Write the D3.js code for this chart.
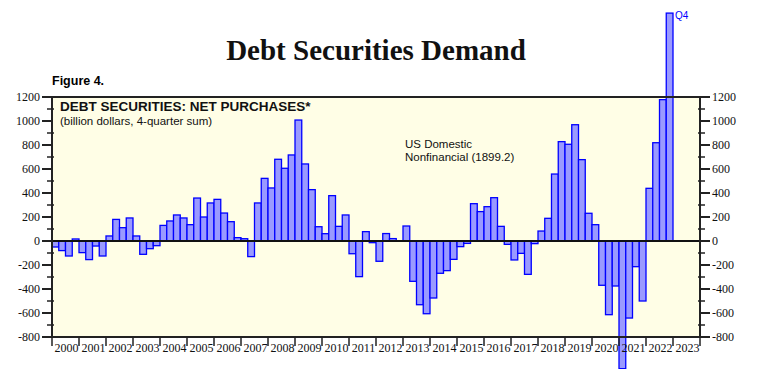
<!DOCTYPE html>
<html>
<head>
<meta charset="utf-8">
<script src="https://cdnjs.cloudflare.com/ajax/libs/d3/7.8.5/d3.min.js"></script>
<style>
  body { margin: 0; background: #fff; }
  svg { display: block; }
</style>
</head>
<body>
<script>
// quarterly net purchases, billion dollars, 4-quarter sum (2000Q1 .. 2022Q4)
const years = d3.range(2000, 2023)
const quarterValues = [
  -50, -80, -125, 17,      // 2000
  -97, -155, -42, -125,    // 2001
  42, 180, 111, 192,       // 2002
  42, -111, -64, -39,      // 2003
  130, 167, 217, 192,      // 2004
  136, 358, 200, 317,      // 2005
  347, 233, 161, 28,       // 2006
  19, -130, 317, 522,      // 2007
  442, 681, 606, 717,      // 2008
  1008, 642, 428, 119,     // 2009
  61, 378, 122, 217,       // 2010
  -106, -297, 78, -14,     // 2011
  -169, 62, 20, 0,         // 2012
  125, -336, -531, -606,   // 2013
  -475, -269, -247, -153,  // 2014
  -47, -20, 311, 245,      // 2015
  286, 361, 122, -28,      // 2016
  -158, -103, -278, -22,   // 2017
  83, 189, 558, 828,       // 2018
  806, 969, 678, 231,      // 2019
  136, -369, -614, -375,   // 2020
  -1064, -642, -214, -500, // 2021
  439, 819, 1178, 1899.2   // 2022
]
const yTicks = [-800, -600, -400, -200, 0, 200, 400, 600, 800, 1000, 1200]
const yearLabels = d3.range(2000, 2024)

const width = 773, height = 369
const plotLeft = 52, plotRight = 700, plotTop = 97, plotBottom = 337

var svg = d3.select("body").append("svg")
    .attr("width", width)
    .attr("height", height)

var x = d3.scaleLinear().domain([2000, 2024]).range([plotLeft, plotRight])
var y = d3.scaleLinear().domain([-800, 1200]).range([plotBottom, plotTop])

// plot background
svg.append("rect")
    .attr("x", plotLeft).attr("y", plotTop)
    .attr("width", plotRight - plotLeft).attr("height", plotBottom - plotTop)
    .attr("fill", "#fffee6")

// title
svg.append("text")
    .attr("x", 376).attr("y", 60)
    .attr("text-anchor", "middle")
    .attr("font-family", "'Liberation Serif', serif")
    .attr("font-weight", "bold")
    .attr("font-size", 29)
    .attr("fill", "#111")
    .text("Debt Securities Demand")

svg.append("text")
    .attr("x", plotLeft).attr("y", 85)
    .attr("font-family", "'Liberation Sans', Arial, sans-serif")
    .attr("font-weight", "bold")
    .attr("font-size", 12.5)
    .text("Figure 4.")

// bars
var data = quarterValues.map((v, i) => ({t: 2000 + i / 4, v: v}))
var bw = x(2000.25) - x(2000)

svg.selectAll(".bar")
    .data(data)
    .enter()
    .append("rect")
    .attr("class", "bar")
    .attr("x", d => x(d.t))
    .attr("width", bw)
    .attr("y", d => y(Math.max(0, d.v)))
    .attr("height", d => Math.abs(y(d.v) - y(0)))
    .attr("fill", "#9a9aff")
    .attr("stroke", "#0000ff")
    .attr("stroke-width", 1.3)

// zero line
svg.append("line")
    .attr("x1", plotLeft).attr("x2", plotRight)
    .attr("y1", y(0)).attr("y2", y(0))
    .attr("stroke", "#111")
    .attr("stroke-width", 2)

// frame
svg.append("rect")
    .attr("x", plotLeft).attr("y", plotTop)
    .attr("width", plotRight - plotLeft).attr("height", plotBottom - plotTop)
    .attr("fill", "none")
    .attr("stroke", "#222")
    .attr("stroke-width", 2)

// y axes, major every 200, minor every 100
var minor = d3.range(-700, 1200, 200)
var serif = "'Liberation Serif', 'Times New Roman', serif"

function drawYAxis(xPos, dir) {
    var g = svg.append("g")
    g.selectAll(".major").data(yTicks).enter().append("line")
        .attr("x1", xPos).attr("x2", xPos + dir * 10)
        .attr("y1", d => y(d)).attr("y2", d => y(d))
        .attr("stroke", "#222").attr("stroke-width", 2)
    g.selectAll(".minor").data(minor).enter().append("line")
        .attr("x1", xPos - dir * 2).attr("x2", xPos + dir * 5)
        .attr("y1", d => y(d)).attr("y2", d => y(d))
        .attr("stroke", "#222").attr("stroke-width", 1.5)
    g.selectAll("text").data(yTicks).enter().append("text")
        .attr("x", xPos + dir * 12)
        .attr("y", d => y(d))
        .attr("dy", "0.35em")
        .attr("text-anchor", dir < 0 ? "end" : "start")
        .attr("font-family", serif)
        .attr("font-size", 12)
        .attr("fill", "#111")
        .text(d => d)
}
drawYAxis(plotLeft, -1)
drawYAxis(plotRight, 1)

// x axis: year boundary ticks, labels centred in each year
svg.selectAll(".xtick")
    .data(yearLabels.concat([2024]))
    .enter().append("line")
    .attr("x1", d => x(d)).attr("x2", d => x(d))
    .attr("y1", plotBottom).attr("y2", plotBottom + 9)
    .attr("stroke", "#222").attr("stroke-width", 1.5)

svg.selectAll(".xlabel")
    .data(yearLabels)
    .enter().append("text")
    .attr("x", d => x(d + 0.5) + 1)
    .attr("y", plotBottom + 15)
    .attr("text-anchor", "middle")
    .attr("font-family", serif)
    .attr("font-size", 12)
    .attr("fill", "#111")
    .text(d => d)

// labels inside the plot
svg.append("text")
    .attr("x", 60).attr("y", 111)
    .attr("font-family", "'Liberation Sans', Arial, sans-serif")
    .attr("font-weight", "bold")
    .attr("font-size", 13.5)
    .attr("fill", "#111")
    .text("DEBT SECURITIES: NET PURCHASES*")

svg.append("text")
    .attr("x", 60).attr("y", 125)
    .attr("font-family", "'Liberation Sans', Arial, sans-serif")
    .attr("font-size", 11.5)
    .attr("fill", "#111")
    .text("(billion dollars, 4-quarter sum)")

svg.append("text")
    .attr("x", 405).attr("y", 148)
    .attr("font-family", "'Liberation Sans', Arial, sans-serif")
    .attr("font-size", 11.5)
    .attr("fill", "#111")
    .text("US Domestic")

svg.append("text")
    .attr("x", 405).attr("y", 161)
    .attr("font-family", "'Liberation Sans', Arial, sans-serif")
    .attr("font-size", 11.5)
    .attr("fill", "#111")
    .text("Nonfinancial (1899.2)")

var last = data[data.length - 1]
svg.append("text")
    .attr("x", x(last.t) + bw + 2)
    .attr("y", y(last.v) + 6)
    .attr("font-family", "'Liberation Sans', Arial, sans-serif")
    .attr("font-size", 10)
    .attr("fill", "#0000ff")
    .text("Q4")
</script>
</body>
</html>
